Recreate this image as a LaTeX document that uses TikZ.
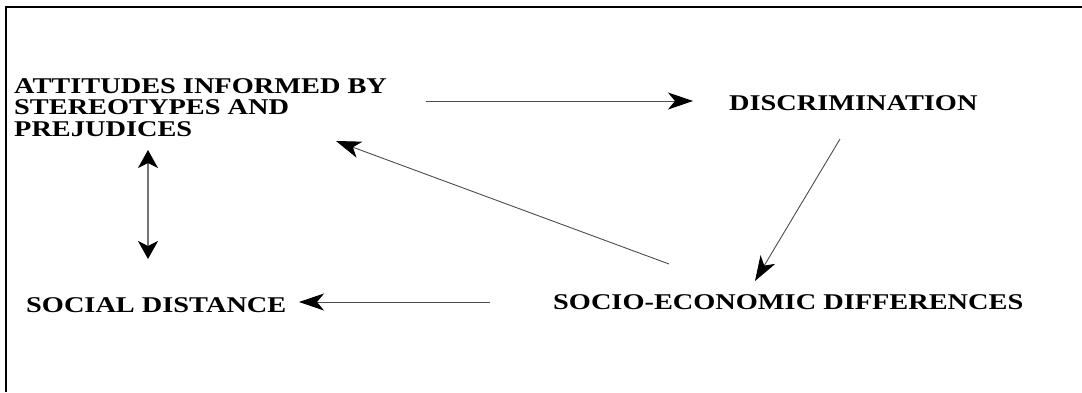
\documentclass[tikz,border=0pt]{standalone}
\usepackage{fontspec}
\newfontfamily\diagfont[FakeStretch=1.26,BoldFeatures={FakeStretch=1.26}]{Liberation Serif}
\usetikzlibrary{arrows.meta}
\begin{document}
\begin{tikzpicture}[x=1pt,y=-1pt,
  lbl/.style={font=\diagfont\bfseries\fontsize{22.5}{21.5}\selectfont, inner sep=0pt, anchor=base west},
  arr/.style={draw=black!70, line width=0.9pt, -{Stealth[length=25pt,width=17pt,inset=7pt,color=black]}},
  darr/.style={draw=black!55, line width=1.2pt, {Stealth[length=18pt,width=20pt,inset=5pt,color=black]}-{Stealth[length=18pt,width=20pt,inset=5pt,color=black]}},
  frame/.style={line width=2pt, draw=black}
]
\useasboundingbox (0,0) rectangle (1082,392);
\draw[frame] (6,392) -- (6,7) -- (1082,7);

\node[lbl, anchor=north west, align=left] (att) at (14,78) {ATTITUDES INFORMED BY\\STEREOTYPES AND\\PREJUDICES};
\node[lbl] (disc) at (729,110) {DISCRIMINATION};
\node[lbl] (soc) at (26,312) {SOCIAL DISTANCE};
\node[lbl] (seco) at (553,309) {SOCIO-ECONOMIC DIFFERENCES};

\coordinate (attout) at (426,101);
\coordinate (discin) at (693,101);
\coordinate (discout) at (840,139);
\coordinate (secoin) at (755,281);
\coordinate (secoout) at (669,264);
\coordinate (attin) at (336,141);
\coordinate (secoleft) at (490,302);
\coordinate (socin) at (299,302);
\coordinate (atttop) at (148,150);
\coordinate (socbot) at (148,259);

\draw[arr] (attout) -- (discin);
\draw[arr] (discout) -- (secoin);
\draw[arr] (secoout) -- (attin);
\draw[arr] (secoleft) -- (socin);
\draw[darr] (atttop) -- (socbot);
\end{tikzpicture}
\end{document}
